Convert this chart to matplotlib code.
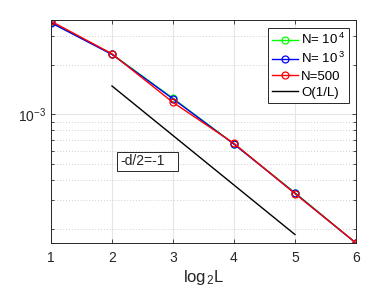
import matplotlib
matplotlib.use("Agg")
import matplotlib.pyplot as plt
from matplotlib.ticker import LogLocator, NullFormatter, FixedLocator
from matplotlib.patches import Rectangle
import numpy as np

plt.rcParams['font.family'] = ['Liberation Sans', 'DejaVu Sans']
plt.rcParams['mathtext.fontset'] = 'custom'
plt.rcParams['mathtext.rm'] = 'Liberation Sans'
plt.rcParams['mathtext.it'] = 'Liberation Sans'

log2L = [1, 2, 3, 4, 5, 6]
err_N1e4 = [3.62e-3, 2.32e-3, 1.25e-3, 6.60e-4, 3.33e-4, 1.65e-4]
err_N1e3 = [3.60e-3, 2.31e-3, 1.24e-3, 6.58e-4, 3.31e-4, 1.645e-4]
err_N500 = [3.68e-3, 2.33e-3, 1.18e-3, 6.65e-4, 3.29e-4, 1.65e-4]
ref_x = [2, 5]
ref_C = 5.94e-3
labels = ['N= $10^{\\,4}$', 'N= $10^{\\,3}$', 'N=500', 'O(1/L)']

fig = plt.figure(figsize=(3.92, 2.94), dpi=100)
ax = fig.add_axes([0.130, 0.173, 0.778, 0.759])

ax.plot(log2L, err_N1e4, '-o', color='#00ff00', lw=1, ms=5, mfc='none', mew=0.9, label=labels[0])
ax.plot(log2L, err_N1e3, '-o', color='#0000ff', lw=1, ms=5, mfc='none', mew=0.9, label=labels[1])
ax.plot(log2L, err_N500, '-o', color='#ff0000', lw=1, ms=5, mfc='none', mew=0.9, label=labels[2])
rx = np.array(ref_x, dtype=float)
ax.plot(rx, ref_C * 2.0 ** (-rx), '-', color='black', lw=1, label=labels[3])

ax.set_yscale('log')
ax.set_xlim(1, 6)
ax.set_ylim(1.645e-4, 3.74e-3)
ax.set_xticks([1, 2, 3, 4, 5, 6])
ax.yaxis.set_major_locator(FixedLocator([1e-3]))
ax.yaxis.set_minor_locator(LogLocator(base=10, subs=np.arange(2, 10)))
ax.yaxis.set_minor_formatter(NullFormatter())

ax.grid(True, which='major', color='#e6e6e6', lw=0.8, ls='-')
ax.grid(True, which='minor', axis='y', color='#d0d0d0', lw=0.7, ls=(0, (1, 2)))
ax.set_axisbelow(True)

for s in ax.spines.values():
    s.set_color('#262626')
    s.set_linewidth(0.7)
ax.tick_params(which='both', direction='in', top=True, right=True, colors='#262626',
               labelsize=10, width=0.6)
ax.tick_params(which='major', length=3)
ax.tick_params(which='minor', length=2)
ax.tick_params(axis='x', pad=6)

ax.set_xlabel('log$_{\\,2}$L', fontsize=12, color='#262626', labelpad=2)

leg = ax.legend(loc='upper right', bbox_to_anchor=(0.977, 0.964), fontsize=9.5,
                fancybox=False, framealpha=1, edgecolor='#262626', borderpad=0.3,
                handlelength=2.0, handletextpad=0.2, labelspacing=0.3, borderaxespad=0)
leg.get_frame().set_linewidth(0.7)

ax.add_patch(Rectangle((0.216, 0.323), 0.199, 0.086, transform=ax.transAxes,
                       fc='white', ec='#262626', lw=0.7, zorder=5))
ax.text(0.228, 0.366, '-d/2=-1', transform=ax.transAxes, fontsize=10, color='#262626',
        va='center', ha='left', zorder=6)

fig.savefig('out.png', dpi=100)
